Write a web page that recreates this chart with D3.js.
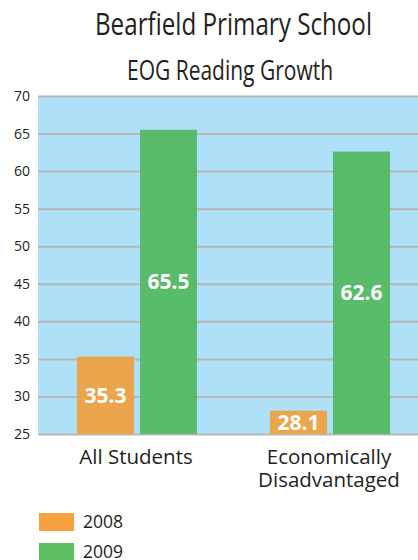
<!DOCTYPE html>
<html>
<head>
<meta charset="utf-8">
<script src="https://cdn.jsdelivr.net/npm/d3@7"></script>
<style>
  html, body { margin: 0; padding: 0; background: #fff; }
  svg { display: block; }
</style>
</head>
<body>
<svg id="chart" width="418" height="560"></svg>
<script>
const categories = ['All Students', 'Economically Disadvantaged'];
const years = ['2008', '2009'];
const values2008 = [35.3, 28.1];
const values2009 = [65.5, 62.6];
const yTicks = [25, 30, 35, 40, 45, 50, 55, 60, 65, 70];

const colors = { 2008: '#f0a040', 2009: '#52b960' };
const legendColors = { 2008: '#f7a23f', 2009: '#5dbf5f' };
const font = "'Open Sans', 'DejaVu Sans', sans-serif";

const svg = d3.select('#chart');
const plot = { left: 38, right: 418, top: 96, bottom: 434 };

const data = categories.map((c, i) => ({
  category: c,
  values: [
    { year: '2008', value: values2008[i] },
    { year: '2009', value: values2009[i] },
  ],
}));

const x0 = d3.scaleBand().domain(categories).range([40.5, 426.5]);
const x1 = d3.scaleBand().domain(years).range([36.5, 156.5]).paddingInner(0.095);
const y = d3.scaleLinear().domain([25, 70]).range([plot.bottom, plot.top]);

// title
svg.append('text')
  .attr('x', 233.5)
  .attr('y', 35)
  .attr('text-anchor', 'middle')
  .attr('font-family', font)
  .attr('font-size', 31)
  .attr('fill', '#231f20')
  .attr('textLength', 277)
  .attr('lengthAdjust', 'spacingAndGlyphs')
  .text('Bearfield Primary School');

svg.append('text')
  .attr('x', 230)
  .attr('y', 80)
  .attr('text-anchor', 'middle')
  .attr('font-family', font)
  .attr('font-size', 27)
  .attr('fill', '#231f20')
  .attr('textLength', 206)
  .attr('lengthAdjust', 'spacingAndGlyphs')
  .text('EOG Reading Growth');

// background
svg.append('rect')
  .attr('x', plot.left)
  .attr('y', plot.top)
  .attr('width', plot.right - plot.left)
  .attr('height', plot.bottom - plot.top)
  .attr('fill', '#aee0f7');

// gridlines + tick labels
const axis = d3.axisLeft(y)
  .tickValues(yTicks)
  .tickSizeInner(-(plot.right - plot.left))
  .tickSizeOuter(0)
  .tickPadding(8);

const gAxis = svg.append('g')
  .attr('transform', `translate(${plot.left},0)`)
  .call(axis);
gAxis.select('.domain').remove();
gAxis.selectAll('.tick line')
  .attr('stroke', '#b6b6b6')
  .attr('stroke-width', 2);
gAxis.selectAll('.tick text')
  .attr('font-family', font)
  .attr('font-size', 14)
  .attr('fill', '#231f20')
  .attr('x', -8);

// bars
const groups = svg.selectAll('.group')
  .data(data)
  .enter()
  .append('g')
  .attr('class', 'group')
  .attr('transform', (d) => `translate(${x0(d.category)},0)`);

groups.selectAll('rect')
  .data((d) => d.values)
  .enter()
  .append('rect')
  .attr('x', (d) => x1(d.year))
  .attr('y', (d) => y(d.value))
  .attr('width', x1.bandwidth())
  .attr('height', (d) => y(25) - y(d.value))
  .attr('fill', (d) => colors[d.year])
  .attr('fill-opacity', 0.93);

groups.selectAll('.val')
  .data((d) => d.values)
  .enter()
  .append('text')
  .attr('class', 'val')
  .attr('x', (d) => x1(d.year) + x1.bandwidth() / 2)
  .attr('y', (d) => (y(d.value) + y(25)) / 2)
  .attr('dy', '0.36em')
  .attr('text-anchor', 'middle')
  .attr('font-family', font)
  .attr('font-weight', 700)
  .attr('font-size', 21)
  .attr('fill', '#fff')
  .attr('textLength', 42)
  .attr('lengthAdjust', 'spacingAndGlyphs')
  .text((d) => d.value.toFixed(1));

// category labels
const catLabels = svg.selectAll('.cat')
  .data(categories)
  .enter()
  .append('text')
  .attr('class', 'cat')
  .attr('y', 464)
  .attr('text-anchor', 'middle')
  .attr('font-family', font)
  .attr('font-size', 20.5)
  .attr('fill', '#231f20');

catLabels.each(function (d) {
  const words = d === 'Economically Disadvantaged' ? ['Economically', 'Disadvantaged'] : [d];
  const t = d3.select(this);
  words.forEach((w, i) => {
    t.append('tspan')
      .attr('x', x0(d) + x0.bandwidth() / 2 - 1)
      .attr('dy', i === 0 ? 0 : 23)
      .text(w);
  });
});

// legend
const legend = svg.selectAll('.legend')
  .data(years)
  .enter()
  .append('g')
  .attr('class', 'legend')
  .attr('transform', (d, i) => `translate(39, ${513 + i * 30})`);

legend.append('rect')
  .attr('width', 35)
  .attr('height', 18)
  .attr('fill', (d) => legendColors[d]);

legend.append('text')
  .attr('x', 44)
  .attr('y', 15)
  .attr('font-family', font)
  .attr('font-size', 17.5)
  .attr('fill', '#231f20')
  .text((d) => d);
</script>
</body>
</html>
